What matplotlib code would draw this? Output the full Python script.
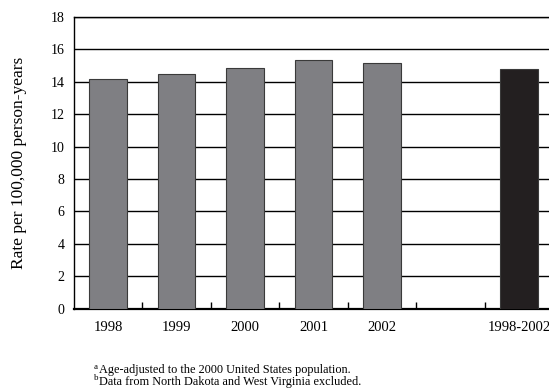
import matplotlib
matplotlib.use("Agg")
import matplotlib.pyplot as plt
import numpy as np

# chart data
categories = ["1998", "1999", "2000", "2001", "2002", "", "1998-2002"]
rates = [14.15, 14.45, 14.82, 15.32, 15.15, np.nan, 14.80]
bar_colors = ["#7f7f83"] * 5 + ["none", "#231f20"]
y_ticks = [0, 2, 4, 6, 8, 10, 12, 14, 16, 18]
footnotes = [
    ("a", "Age-adjusted to the 2000 United States population."),
    ("b", "Data from North Dakota and West Virginia excluded."),
]

plt.rcParams["font.family"] = ["Liberation Serif", "DejaVu Serif"]

W, H = 549, 392
fig = plt.figure(figsize=(W / 100, H / 100), dpi=100)
# axes: left 74px, right ~553px (cut off by figure edge), top 17px, bottom 308px
ax = fig.add_axes([74 / W, 1 - 308.5 / H, (553 - 74) / W, (308.5 - 17) / H])

x = np.arange(len(categories))
for xi, val, col in zip(x, rates, bar_colors):
    if np.isnan(val):
        continue
    ax.bar(xi, val, width=0.55, color=col, edgecolor="#3a3a3a",
           linewidth=0.8, zorder=3)

ax.set_xlim(-0.5, len(categories) - 0.5)
ax.set_ylim(0, 18)
ax.set_yticks(y_ticks)
ax.set_yticklabels([str(t) for t in y_ticks], fontsize=10)
ax.yaxis.grid(True, color="black", linewidth=1.0, zorder=0)
ax.set_axisbelow(True)
ax.tick_params(axis="y", length=0, pad=7)

# category labels centred, ticks at category boundaries pointing up
ax.set_xticks(x)
ax.set_xticklabels(categories, fontsize=10.5)
ax.tick_params(axis="x", which="major", length=0, pad=9)
ax.set_xticks(x[:-1] + 0.5, minor=True)
ax.tick_params(axis="x", which="minor", direction="in", length=5,
               width=1.0, color="black")

# right edge of the frame falls outside the picture
ax.spines["right"].set_visible(False)
for side in ("left", "top"):
    ax.spines[side].set_linewidth(1.0)
ax.spines["bottom"].set_linewidth(1.6)

ax.set_ylabel("Rate per 100,000 person-years", fontsize=12.5)
ax.yaxis.set_label_coords(-47 / (553 - 74), 0.5)

for i, (mark, text) in enumerate(footnotes):
    yy = 1 - (370 + 11.5 * i) / H
    fig.text(94 / W, yy + 3 / H, mark, fontsize=6.5, va="center", ha="left")
    fig.text(99 / W, yy, text, fontsize=8.8, va="center", ha="left")

fig.savefig("out.png", dpi=100)
